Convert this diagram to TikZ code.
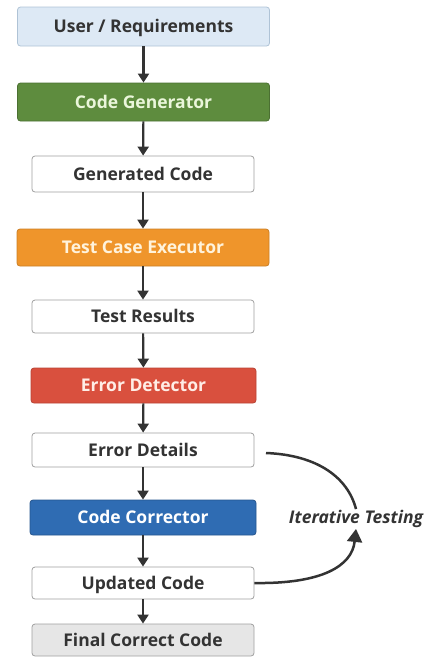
\documentclass[tikz,border=0pt]{standalone}
\usepackage{fontspec}
\setmainfont{Open Sans}
\usetikzlibrary{arrows.meta}
\definecolor{ink}{HTML}{333333}
\definecolor{reqfill}{HTML}{DDE9F5}
\definecolor{reqline}{HTML}{AFC3D6}
\definecolor{genfill}{HTML}{5E8C3E}
\definecolor{gentext}{HTML}{EAF6DA}
\definecolor{exefill}{HTML}{EF952B}
\definecolor{exetext}{HTML}{FFF3DC}
\definecolor{detfill}{HTML}{D9503E}
\definecolor{dettext}{HTML}{FFEDE6}
\definecolor{corfill}{HTML}{2F6CB3}
\definecolor{finfill}{HTML}{E6E6E6}
\definecolor{boxline}{HTML}{A0A0A0}
\tikzset{
  stage/.style={draw, rounded corners=3pt, line width=0.8pt, align=center,
    font=\fontsize{17.5}{19}\selectfont\bfseries, inner sep=0pt,
    text height=12.4pt, text depth=0pt},
  wide/.style={minimum width=252pt},
  narrow/.style={minimum width=222pt},
  plain/.style={stage, narrow, fill=white, draw=boxline, text=ink},
  flow/.style={draw=ink, line width=2.2pt, -{Triangle[width=11pt,length=9pt]}},
  loop/.style={draw=ink, line width=2.5pt}
}
\begin{document}
\begin{tikzpicture}[x=1pt,y=-1pt]
\useasboundingbox (0,0) rectangle (432,657);

\node[stage, wide, minimum height=39pt, fill=reqfill, draw=reqline, text=ink] (req) at (143.5,26.5) {User / Requirements};
\node[stage, wide, minimum height=38pt, fill=genfill, draw=genfill!80!black, text=gentext] (gen) at (143.5,102) {Code Generator};
\node[plain, minimum height=36pt] (gcode) at (143,174) {Generated Code};
\node[stage, wide, minimum height=37pt, fill=exefill, draw=exefill!85!black, text=exetext] (exe) at (143,247.5) {Test Case Executor};
\node[plain, minimum height=33pt] (res) at (143,316.5) {Test Results};
\node[stage, minimum width=225pt, minimum height=35pt, fill=detfill, draw=detfill!85!black, text=dettext] (det) at (143.5,385.5) {Error Detector};
\node[plain, minimum height=34pt] (edet) at (143,450) {Error Details};
\node[stage, minimum width=226pt, minimum height=35pt, fill=corfill, draw=corfill!80!black, text=white] (cor) at (143,517.5) {Code Corrector};
\node[plain, minimum height=32pt] (upd) at (143,583) {Updated Code};
\node[stage, narrow, minimum height=32pt, fill=finfill, draw=boxline, text=ink] (fin) at (143,640) {Final Correct Code};

\draw[flow] (req) -- (gen);
\draw[flow] (gen) -- (gcode);
\draw[flow] (gcode) -- (exe);
\draw[flow] (exe) -- (res);
\draw[flow] (res) -- (det);
\draw[flow] (det) -- (edet);
\draw[flow] (edet) -- (cor);
\draw[flow] (cor) -- (upd);
\draw[flow] (upd) -- (fin);

% feedback loop
\node[font=\fontsize{17.5}{19}\selectfont\bfseries\itshape, text=ink, inner sep=1pt] (iter) at (356,519) {Iterative Testing};
\coordinate (loopstart) at (266,453);
\draw[loop] (loopstart) .. controls (318,455) and (348,478) .. (iter.north);
\draw[loop, -{Triangle[width=15pt,length=13pt]}] (upd.east) .. controls (322,584) and (352,566) .. (iter.south);
\end{tikzpicture}
\end{document}
